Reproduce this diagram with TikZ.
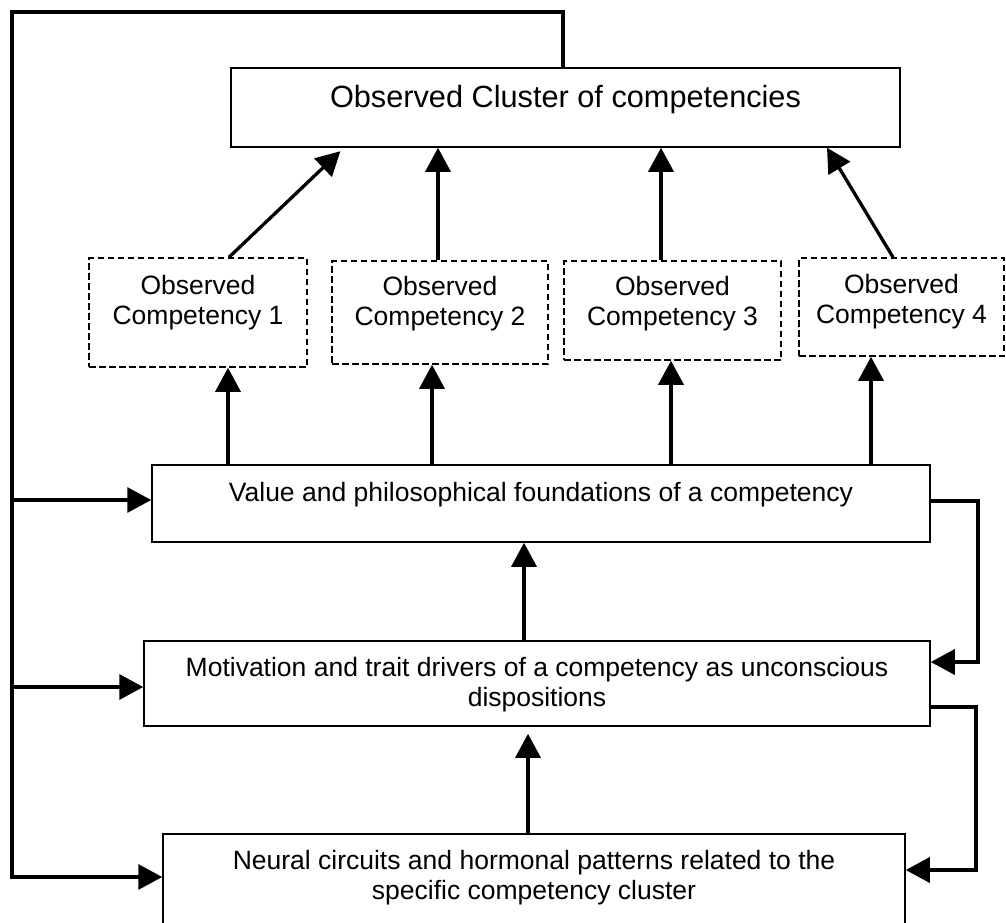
\documentclass[tikz,border=0pt]{standalone}
\usepackage{fontspec}
\setmainfont{Liberation Sans}
\usepackage{tikz}
\usetikzlibrary{arrows.meta}
\newcommand{\boxtext}[1]{\begin{tabular}[t]{@{}c@{}}#1\end{tabular}}

\begin{document}
\begin{tikzpicture}[x=1pt, y=-1pt, >={Triangle[length=24pt, width=25pt]},
  box/.style={draw, line width=1.5pt, inner sep=0pt, anchor=base, font=\fontsize{26.5}{30}\selectfont},
  obs/.style={box, dash pattern=on 6.5pt off 3.5pt},
  arr/.style={->, line width=3.3pt}]
  \useasboundingbox (0,0) rectangle (1006,922);

  \node[box, minimum width=669, text height=39, text depth=40, font=\fontsize{30.7}{36}\selectfont] (cluster) at (565.5,107) {Observed Cluster of competencies};
  \node[obs, minimum width=218, text height=36, text depth=73] (comp1) at (198,294) {\boxtext{Observed\\Competency 1}};
  \node[obs, minimum width=216, text height=34, text depth=69] (comp2) at (440,295) {\boxtext{Observed\\Competency 2}};
  \node[obs, minimum width=217, text height=34, text depth=65] (comp3) at (672.5,295) {\boxtext{Observed\\Competency 3}};
  \node[obs, minimum width=205, text height=35, text depth=63] (comp4) at (901.5,293) {\boxtext{Observed\\Competency 4}};
  \node[box, minimum width=778, text height=36, text depth=41] (value) at (541,501) {Value and philosophical foundations of a competency};
  \node[box, minimum width=786, text height=35, text depth=50] (motiv) at (537,676) {\boxtext{Motivation and trait drivers of a competency as unconscious\\dispositions}};
  \node[box, minimum width=742, text height=35, text depth=66] (neural) at (534,869) {\boxtext{Neural circuits and hormonal patterns related to the\\specific competency cluster}};

  \draw[arr] (cluster.north -| 563,0) |- (12,12) |- (neural.west |- 0,877);
  \draw[arr] (12,500) -- (value.west |- 0,500);
  \draw[arr] (12,687) -- (motiv.west |- 0,687);
  \draw[arr] (value.east |- 0,501) -| (978,580) |- (motiv.east |- 0,662);
  \draw[arr] (motiv.east |- 0,707) -| (976,790) |- (neural.east |- 0,870);

  \draw[arr, shorten >=7pt] (neural.north -| 528,0) -- (motiv.south -| 528,0);
  \draw[arr] (motiv.north -| 524,0) -- (value.south -| 524,0);
  \foreach \x/\c in {228/comp1, 432/comp2, 671/comp3, 871/comp4}
    \draw[arr] (value.north -| \x,0) -- (\c.south -| \x,0);

  \draw[arr, shorten >=5pt] (comp1.north -| 229,0) -- (cluster.south -| 344,0);
  \draw[arr] (comp2.north -| 438,0) -- (cluster.south -| 438,0);
  \draw[arr] (comp3.north -| 661,0) -- (cluster.south -| 661,0);
  \draw[arr] (comp4.north -| 893,0) -- (cluster.south -| 827,0);
\end{tikzpicture}
\end{document}
